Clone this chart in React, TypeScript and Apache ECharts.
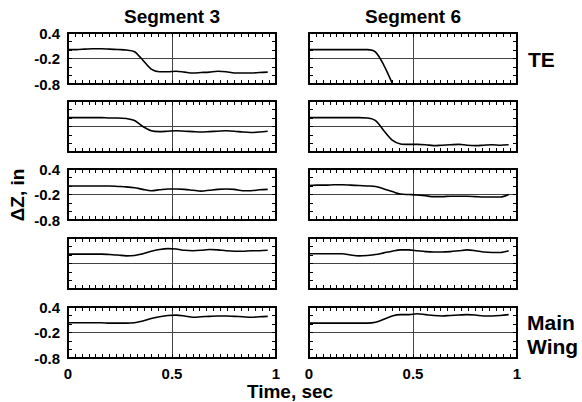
import React, { useEffect, useRef } from "react";
import * as echarts from "echarts";

// Time samples (sec) shared by every panel
const time = [0, 0.04, 0.08, 0.12, 0.16, 0.2, 0.24, 0.28, 0.32, 0.36, 0.4, 0.44, 0.48, 0.52, 0.56, 0.6, 0.64, 0.68, 0.72, 0.76, 0.8, 0.84, 0.88, 0.92, 0.96];

const columnTitles = ["Segment 3", "Segment 6"];
// Axis ticks: x labels 0, 0.5, 1 ; y labels -0.8, -0.2, 0.4
const xTicks = { min: 0, max: 1, interval: 0.5 };
const yTicks = { min: -0.8, max: 0.4, interval: 0.6 };

// Segment 3 (left column), rows top (TE) to bottom (Main Wing)
const seg3Row1 = [0.01, 0.01, 0.02, 0.03, 0.03, 0.02, 0.01, 0.0, -0.04, -0.24, -0.45, -0.51, -0.51, -0.5, -0.52, -0.54, -0.53, -0.52, -0.5, -0.51, -0.54, -0.54, -0.54, -0.53, -0.52];
const seg3Row2 = [0.01, 0.01, 0.01, 0.01, 0.01, 0.0, 0.0, -0.01, -0.06, -0.2, -0.3, -0.32, -0.31, -0.3, -0.31, -0.32, -0.33, -0.32, -0.31, -0.3, -0.31, -0.33, -0.34, -0.33, -0.31];
const seg3Row3 = [0.0, 0.0, 0.0, 0.0, 0.0, 0.0, -0.01, -0.02, -0.04, -0.08, -0.11, -0.09, -0.07, -0.07, -0.08, -0.1, -0.12, -0.1, -0.08, -0.07, -0.08, -0.11, -0.11, -0.09, -0.08];
const seg3Row4 = [0.02, 0.02, 0.02, 0.02, 0.02, 0.01, 0.0, -0.02, -0.01, 0.03, 0.09, 0.13, 0.15, 0.14, 0.11, 0.1, 0.11, 0.13, 0.12, 0.1, 0.09, 0.09, 0.1, 0.1, 0.11];
const seg3Row5 = [0.03, 0.03, 0.03, 0.03, 0.03, 0.02, 0.02, 0.02, 0.03, 0.07, 0.13, 0.17, 0.2, 0.21, 0.19, 0.16, 0.17, 0.18, 0.19, 0.19, 0.18, 0.17, 0.16, 0.17, 0.18];

// Segment 6 (right column)
const seg6Row1 = [0.01, 0.01, 0.01, 0.01, 0.01, 0.01, 0.01, 0.01, -0.05, -0.36, -0.78, -1.25, null, null, null, null, null, null, null, null, null, null, null, null, null];
const seg6Row2 = [0.01, 0.01, 0.01, 0.01, 0.01, 0.01, 0.01, 0.0, -0.06, -0.3, -0.52, -0.61, -0.62, -0.62, -0.63, -0.65, -0.64, -0.63, -0.62, -0.64, -0.65, -0.64, -0.63, -0.64, -0.63];
const seg6Row3 = [0.01, 0.02, 0.02, 0.03, 0.03, 0.02, 0.01, 0.0, -0.01, -0.07, -0.13, -0.19, -0.2, -0.21, -0.23, -0.25, -0.25, -0.24, -0.24, -0.24, -0.25, -0.26, -0.26, -0.26, -0.2];
const seg6Row4 = [0.03, 0.03, 0.03, 0.03, 0.03, 0.0, -0.02, -0.01, 0.01, 0.05, 0.09, 0.12, 0.12, 0.1, 0.08, 0.07, 0.07, 0.08, 0.1, 0.12, 0.1, 0.07, 0.06, 0.06, 0.1];
const seg6Row5 = [0.02, 0.02, 0.02, 0.02, 0.02, 0.02, 0.02, 0.02, 0.04, 0.11, 0.19, 0.22, 0.22, 0.24, 0.22, 0.2, 0.19, 0.2, 0.21, 0.22, 0.21, 0.19, 0.19, 0.2, 0.22];

const panels = [
  [seg3Row1, seg6Row1],
  [seg3Row2, seg6Row2],
  [seg3Row3, seg6Row3],
  [seg3Row4, seg6Row4],
  [seg3Row5, seg6Row5],
];

const FONT = "'Liberation Sans', Arial, sans-serif";

export default function App() {
  const ref = useRef<HTMLDivElement>(null);
  useEffect(() => {
    document.body.style.margin = "0";
    const chart = echarts.init(ref.current!, null, { renderer: "svg" });
    const colLeft = [68, 309];
    const plotW = 208;
    const rowTop = [33, 101, 169, 238, 307];
    const plotH = 51;
    const grids: any[] = [];
    const xAxes: any[] = [];
    const yAxes: any[] = [];
    const series: any[] = [];

    const label = (show: boolean) => ({
      show, color: "#000", fontSize: 15,
      formatter: "{b|{value}}",
      rich: { b: { fontWeight: "bold", fontSize: 15, color: "#000", fontFamily: FONT } },
    });
    const mkX = (g: number, pos: string, showLabel: boolean) => ({
      type: "value", gridIndex: g, min: xTicks.min, max: xTicks.max, interval: xTicks.interval, position: pos,
      axisLine: { show: true, onZero: false, lineStyle: { color: "#000", width: 2 } },
      axisTick: { show: true, inside: true, length: 4, lineStyle: { color: "#000", width: 1 } },
      minorTick: { show: true, splitNumber: 15, length: 4, lineStyle: { color: "#000", width: 1 } },
      splitLine: { show: pos === "bottom", lineStyle: { color: "#444", width: 1 } },
      axisLabel: label(showLabel),
    });
    const mkY = (g: number, pos: string, showLabel: boolean) => ({
      type: "value", gridIndex: g, min: yTicks.min, max: yTicks.max, interval: yTicks.interval, position: pos,
      axisLine: { show: true, onZero: false, lineStyle: { color: "#000", width: 2 } },
      axisTick: { show: true, inside: true, length: 4, lineStyle: { color: "#000", width: 1 } },
      minorTick: { show: true, splitNumber: 3, length: 4, lineStyle: { color: "#000", width: 1 } },
      splitLine: { show: pos === "left", lineStyle: { color: "#444", width: 1 } },
      axisLabel: label(showLabel),
    });

    panels.forEach((row, r) => {
      row.forEach((vals, c) => {
        const g = grids.length;
        grids.push({ left: colLeft[c], top: rowTop[r], width: plotW, height: plotH });
        const xi = xAxes.length;
        xAxes.push(mkX(g, "bottom", r === 4));
        xAxes.push(mkX(g, "top", false));
        const yi = yAxes.length;
        yAxes.push(mkY(g, "left", c === 0 && r % 2 === 0));
        yAxes.push(mkY(g, "right", false));
        series.push({
          type: "line", xAxisIndex: xi, yAxisIndex: yi,
          data: time.map((t, i) => [t, vals[i]]),
          showSymbol: false, smooth: 0.3, clip: true,
          lineStyle: { color: "#000", width: 1.6 },
        });
      });
    });
    const txt = (text: string, x: number, y: number, size: number, align: string, rotation = 0) => ({
      type: "text", x, y, rotation,
      style: { text, fontSize: size, fontWeight: "bold", fontFamily: FONT, fill: "#000", textAlign: align, textVerticalAlign: "middle" },
    });
    chart.setOption({
      animation: false,
      backgroundColor: "#fff",
      grid: grids,
      xAxis: xAxes,
      yAxis: yAxes,
      series,
      graphic: [
        txt(columnTitles[0], 172, 16, 19, "center"),
        txt(columnTitles[1], 413, 16, 19, "center"),
        txt("TE", 528, 59, 21, "left"),
        txt("Main", 527, 322, 21, "left"),
        txt("Wing", 527, 346, 21, "left"),
        txt("Time, sec", 290, 391, 19, "center"),
        txt("ΔZ, in", 17, 195, 19, "center", Math.PI / 2),
      ],
    });
    return () => chart.dispose();
  }, []);
  return <div ref={ref} style={{ width: 582, height: 402 }} />;
}
